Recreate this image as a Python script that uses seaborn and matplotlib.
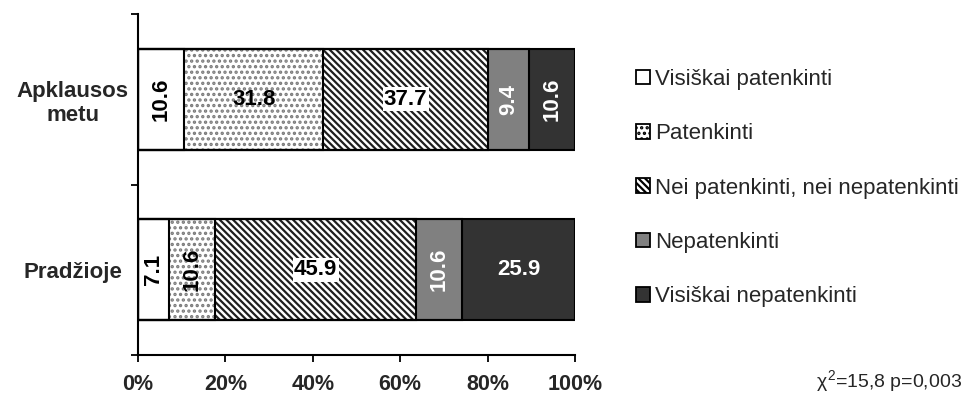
import numpy as np
import pandas as pd
import matplotlib
matplotlib.use("Agg")
import matplotlib.pyplot as plt
import matplotlib.patches as mpatches
import seaborn as sns

# --- data -------------------------------------------------------------
groups = ["Apklausos\nmetu", "Pradžioje"]
series = ["Visiškai patenkinti", "Patenkinti",
          "Nei patenkinti, nei nepatenkinti", "Nepatenkinti",
          "Visiškai nepatenkinti"]
apklausos_metu = [10.6, 31.8, 37.7, 9.4, 10.6]
pradzioje = [7.1, 10.6, 45.9, 10.6, 25.9]
x_ticks = [0, 20, 40, 60, 80, 100]
x_tick_labels = ["0%", "20%", "40%", "60%", "80%", "100%"]
stat_text = r"$\chi^{2}$=15,8 p=0,003"

# --- styles per response category ---------------------------------------
face_colors = ["white", "white", "white", "#808080", "#333333"]
hatch_colors = ["white", "#7a7a7a", "#1e1e1e", "#808080", "#333333"]
hatches = [None, "...", "\\\\\\\\\\", None, None]
text_colors = ["black", "black", "black", "white", "white"]

sns.set_style("white")
plt.rcParams["font.family"] = ["Liberation Sans", "DejaVu Sans"]
plt.rcParams["hatch.linewidth"] = 1.6
plt.rcParams["mathtext.fontset"] = "custom"
plt.rcParams["mathtext.rm"] = "Liberation Sans"
plt.rcParams["mathtext.it"] = "Liberation Sans"

vals = np.array([apklausos_metu, pradzioje])
cum = np.cumsum(vals, axis=1)

fig = plt.figure(figsize=(9.64, 3.99), dpi=100)
ax = fig.add_axes([138 / 964, 1 - 355 / 399, (575 - 138) / 964, (355 - 14) / 399])

bar_w = 0.59
# stacked bars: draw cumulative totals from the outermost inwards
for k in range(len(series) - 1, -1, -1):
    df = pd.DataFrame({"group": groups, "total": cum[:, k]})
    sns.barplot(data=df, x="total", y="group", orient="h", ax=ax,
                color=face_colors[k], saturation=1, errorbar=None,
                width=bar_w, hatch=hatches[k], edgecolor=hatch_colors[k],
                linewidth=0)
# black outlines of every segment
for k in range(len(series) - 1, -1, -1):
    df = pd.DataFrame({"group": groups, "total": cum[:, k]})
    sns.barplot(data=df, x="total", y="group", orient="h", ax=ax,
                color="black", fill=False, saturation=1, errorbar=None,
                width=bar_w, linewidth=1.5)

# value labels
for i in range(len(groups)):
    for k in range(len(series)):
        v = vals[i, k]
        xc = cum[i, k] - v / 2
        rot = 90 if v < 12 else 0
        bbox = None
        if k == 2:
            bbox = dict(facecolor="white", edgecolor="none", pad=1.0)
        ax.text(xc, i, f"{v:.1f}", ha="center", va="center", rotation=rot,
                fontsize=16, fontweight="bold", color=text_colors[k],
                bbox=bbox)

# axes
ax.set_xlim(0, 100)
ax.set_ylim(1.5, -0.5)
ax.set_xlabel("")
ax.set_ylabel("")
ax.set_xticks(x_ticks, x_tick_labels)
ax.set_yticks([-0.5, 0.5, 1.5], [])
ax.set_yticks([0, 1], groups, minor=True)
for s in ["top", "right"]:
    ax.spines[s].set_visible(False)
for s in ["left", "bottom"]:
    ax.spines[s].set_color("black")
    ax.spines[s].set_linewidth(1.5)
ax.tick_params(axis="x", which="major", direction="out", length=5, width=1.3,
               color="black", bottom=True, pad=9, labelsize=15.5)
ax.tick_params(axis="y", which="major", direction="out", length=5, width=1.3,
               color="black", left=True)
ax.tick_params(axis="y", which="minor", length=0, pad=47, labelsize=16)
for lab in ax.get_xticklabels():
    lab.set_fontweight("bold")
for lab in ax.get_yticklabels(minor=True):
    lab.set_fontweight("bold")
    lab.set_horizontalalignment("center")
    lab.set_multialignment("center")
ax.grid(False)

# legend
handles = []
for k in range(len(series)):
    handles.append(mpatches.Patch(facecolor=face_colors[k], hatch=hatches[k],
                                  edgecolor="black", linewidth=1.3,
                                  label=series[k]))
fig.legend(handles=handles, loc="center left",
           bbox_to_anchor=(636 / 964, 1 - 188 / 399), frameon=False,
           fontsize=16, handlelength=0.62, handleheight=0.62,
           handletextpad=0.25, labelspacing=1.5, borderpad=0,
           borderaxespad=0)

fig.text(962 / 964, 1 - 381 / 399, stat_text, ha="right", va="center",
         fontsize=14)

fig.savefig("out.png", dpi=100)
